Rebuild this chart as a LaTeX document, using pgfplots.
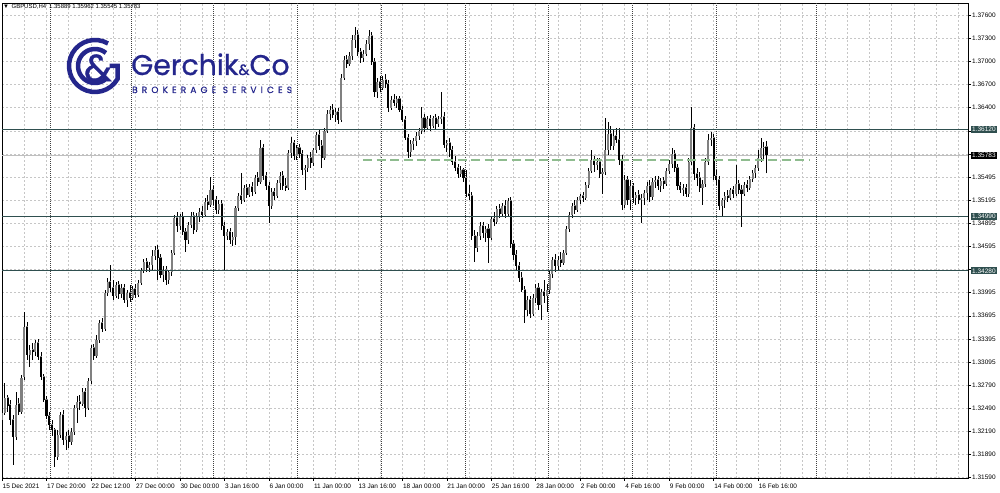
\documentclass[border=0pt]{standalone}
\usepackage{fontspec}
\setmainfont{Liberation Sans}
\newfontfamily\logofont{Poppins}[FakeBold=0.8]
\newfontfamily\logospaced{Poppins}[LetterSpace=46, FakeBold=0.5]
\usepackage{pgfplots}
\usepackage{pgfplotstable}
\pgfplotsset{compat=1.18}
\definecolor{slate}{RGB}{47,79,79}
\definecolor{lvlgreen}{RGB}{143,188,143}
\definecolor{logoblue}{RGB}{36,38,140}
\definecolor{gridgray}{RGB}{198,198,198}
\definecolor{bullgray}{RGB}{128,128,128}

\pgfplotstableread{
i o h l c
0 1.32340 1.32509 1.32249 1.32431
1 1.32431 1.32821 1.32405 1.32626
2 1.32626 1.32665 1.32444 1.32522
3 1.32535 1.32600 1.32275 1.32340
4 1.32340 1.32405 1.31755 1.32119
5 1.32119 1.32704 1.32080 1.32535
6 1.32548 1.32626 1.32405 1.32444
7 1.32444 1.32925 1.32418 1.32886
8 1.32899 1.33744 1.32860 1.33549
9 1.33549 1.33614 1.33120 1.33185
10 1.33185 1.33315 1.33029 1.33250
11 1.33250 1.33341 1.33120 1.33224
12 1.33224 1.33380 1.33172 1.33341
13 1.33341 1.33393 1.33120 1.33159
14 1.33159 1.33224 1.32860 1.32899
15 1.32899 1.32938 1.32574 1.32600
16 1.32600 1.32652 1.32353 1.32392
17 1.32392 1.32444 1.32210 1.32275
18 1.32275 1.32340 1.32132 1.32210
19 1.32210 1.32236 1.31729 1.31859
20 1.31859 1.32210 1.31820 1.32145
21 1.32145 1.32444 1.32106 1.32405
22 1.32405 1.32470 1.32015 1.32080
23 1.32080 1.32184 1.31950 1.32132
24 1.32132 1.32210 1.31976 1.32054
25 1.32054 1.32236 1.32015 1.32184
26 1.32184 1.32535 1.32145 1.32496
27 1.32496 1.32652 1.32301 1.32574
28 1.32574 1.32665 1.32470 1.32548
29 1.32548 1.32756 1.32522 1.32704
30 1.32704 1.32756 1.32379 1.32496
31 1.32496 1.32886 1.32470 1.32847
32 1.32847 1.33315 1.32808 1.33276
33 1.33276 1.33328 1.33120 1.33172
34 1.33172 1.33445 1.33146 1.33380
35 1.33380 1.33640 1.33341 1.33601
36 1.33601 1.33666 1.33484 1.33523
37 1.33523 1.34030 1.33497 1.33991
38 1.33991 1.34186 1.33952 1.34134
39 1.34134 1.34355 1.34004 1.34056
40 1.34056 1.34160 1.33900 1.33952
41 1.33952 1.34134 1.33926 1.34095
42 1.34095 1.34147 1.33913 1.33978
43 1.33978 1.34108 1.33926 1.34056
44 1.34056 1.34108 1.33861 1.33900
45 1.33900 1.34030 1.33809 1.33991
46 1.33991 1.34095 1.33874 1.33926
47 1.33926 1.34082 1.33900 1.34043
48 1.34043 1.34108 1.33926 1.33965
49 1.33965 1.34160 1.33939 1.34121
50 1.34121 1.34316 1.34095 1.34290
51 1.34290 1.34433 1.34251 1.34394
52 1.34394 1.34446 1.34264 1.34316
53 1.34316 1.34394 1.34264 1.34355
54 1.34355 1.34550 1.34290 1.34472
55 1.34472 1.34602 1.34420 1.34550
56 1.34550 1.34615 1.34160 1.34446
57 1.34446 1.34498 1.34186 1.34225
58 1.34225 1.34342 1.34134 1.34290
59 1.34290 1.34342 1.34095 1.34160
60 1.34160 1.34290 1.34108 1.34264
61 1.34264 1.34550 1.34212 1.34511
62 1.34511 1.35005 1.34485 1.34966
63 1.34966 1.35044 1.34784 1.34862
64 1.34862 1.35018 1.34810 1.34979
65 1.34979 1.35044 1.34745 1.34784
66 1.34784 1.34836 1.34524 1.34680
67 1.34680 1.34914 1.34628 1.34875
68 1.34875 1.35044 1.34836 1.34992
69 1.34992 1.35044 1.34758 1.34810
70 1.34810 1.35031 1.34784 1.34992
71 1.34992 1.35096 1.34914 1.35044
72 1.35044 1.35122 1.34966 1.35005
73 1.35005 1.35226 1.34979 1.35174
74 1.35174 1.35265 1.35070 1.35135
75 1.35135 1.35499 1.35109 1.35330
76 1.35330 1.35382 1.35135 1.35200
77 1.35200 1.35252 1.35018 1.35070
78 1.35070 1.35200 1.35018 1.35148
79 1.35148 1.35200 1.34810 1.34862
80 1.34862 1.34914 1.34290 1.34732
81 1.34732 1.34823 1.34680 1.34784
82 1.34784 1.34836 1.34628 1.34680
83 1.34680 1.34784 1.34602 1.34719
84 1.34719 1.35122 1.34615 1.35096
85 1.35096 1.35291 1.35057 1.35252
86 1.35252 1.35551 1.35148 1.35200
87 1.35200 1.35395 1.35174 1.35356
88 1.35356 1.35408 1.35226 1.35265
89 1.35265 1.35408 1.35239 1.35369
90 1.35369 1.35434 1.35252 1.35304
91 1.35304 1.35525 1.35278 1.35486
92 1.35486 1.35564 1.35382 1.35434
93 1.35434 1.35980 1.35408 1.35876
94 1.35876 1.35928 1.35460 1.35512
95 1.35512 1.35564 1.35330 1.35382
96 1.35382 1.35434 1.34901 1.35122
97 1.35122 1.35356 1.35083 1.35304
98 1.35304 1.35356 1.35200 1.35252
99 1.35252 1.35460 1.35226 1.35421
100 1.35421 1.35564 1.35330 1.35512
101 1.35512 1.35577 1.35330 1.35382
102 1.35382 1.35486 1.35317 1.35356
103 1.35356 1.35850 1.35330 1.35811
104 1.35811 1.36019 1.35746 1.35941
105 1.35941 1.35980 1.35720 1.35772
106 1.35772 1.35915 1.35720 1.35876
107 1.35876 1.35928 1.35746 1.35798
108 1.35798 1.35850 1.35525 1.35590
109 1.35590 1.35655 1.35330 1.35616
110 1.35616 1.35785 1.35564 1.35746
111 1.35746 1.35824 1.35616 1.35681
112 1.35681 1.35876 1.35642 1.35850
113 1.35850 1.36084 1.35811 1.36045
114 1.36045 1.36110 1.35850 1.35902
115 1.35902 1.35980 1.35616 1.35746
116 1.35746 1.36136 1.35720 1.36097
117 1.36097 1.36370 1.36071 1.36318
118 1.36318 1.36422 1.36240 1.36370
119 1.36370 1.36448 1.36266 1.36305
120 1.36305 1.36396 1.36214 1.36344
121 1.36344 1.36396 1.36188 1.36240
122 1.36240 1.36838 1.36214 1.36786
123 1.36786 1.37072 1.36760 1.37020
124 1.37020 1.37085 1.36916 1.36968
125 1.36968 1.37124 1.36942 1.37072
126 1.37072 1.37345 1.37020 1.37280
127 1.37280 1.37449 1.37176 1.37345
128 1.37345 1.37410 1.37072 1.37124
129 1.37124 1.37176 1.36981 1.37046
130 1.37046 1.37150 1.36994 1.37098
131 1.37098 1.37280 1.37072 1.37228
132 1.37228 1.37410 1.37150 1.37332
133 1.37332 1.37384 1.36955 1.36994
134 1.36994 1.37046 1.36539 1.36604
135 1.36604 1.36786 1.36526 1.36734
136 1.36734 1.36812 1.36604 1.36656
137 1.36656 1.36812 1.36630 1.36760
138 1.36760 1.36838 1.36656 1.36708
139 1.36708 1.36760 1.36344 1.36396
140 1.36396 1.36552 1.36370 1.36500
141 1.36500 1.36578 1.36422 1.36461
142 1.36461 1.36552 1.36396 1.36513
143 1.36513 1.36552 1.36344 1.36370
144 1.36370 1.36422 1.36214 1.36240
145 1.36240 1.36292 1.35980 1.36006
146 1.36006 1.36058 1.35746 1.35824
147 1.35824 1.35980 1.35759 1.35928
148 1.35928 1.36006 1.35850 1.35967
149 1.35967 1.36084 1.35902 1.36032
150 1.36032 1.36136 1.35980 1.36097
151 1.36097 1.36409 1.36058 1.36266
152 1.36266 1.36318 1.36084 1.36136
153 1.36136 1.36292 1.36110 1.36253
154 1.36253 1.36305 1.36097 1.36162
155 1.36162 1.36292 1.36136 1.36266
156 1.36266 1.36318 1.36110 1.36188
157 1.36188 1.36292 1.36149 1.36253
158 1.36253 1.36604 1.36188 1.36279
159 1.36279 1.36344 1.35876 1.35915
160 1.35915 1.35980 1.35824 1.35941
161 1.35941 1.36006 1.35759 1.35850
162 1.35850 1.35902 1.35655 1.35694
163 1.35694 1.35772 1.35577 1.35616
164 1.35616 1.35668 1.35486 1.35538
165 1.35538 1.35642 1.35499 1.35590
166 1.35590 1.35616 1.35434 1.35486
167 1.35486 1.35590 1.35239 1.35278
168 1.35278 1.35395 1.35200 1.35252
169 1.35252 1.35304 1.34680 1.34732
170 1.34732 1.34810 1.34394 1.34576
171 1.34576 1.34784 1.34524 1.34732
172 1.34732 1.34914 1.34680 1.34862
173 1.34862 1.34914 1.34706 1.34771
174 1.34771 1.34862 1.34654 1.34823
175 1.34823 1.34888 1.34381 1.34706
176 1.34706 1.34992 1.34680 1.34953
177 1.34953 1.35044 1.34862 1.34914
178 1.34914 1.35122 1.34888 1.35083
179 1.35083 1.35148 1.34966 1.35018
180 1.35018 1.35161 1.34992 1.35122
181 1.35122 1.35200 1.34966 1.35018
182 1.35018 1.35226 1.34992 1.35187
183 1.35187 1.35239 1.34576 1.34628
184 1.34628 1.34680 1.34420 1.34485
185 1.34485 1.34550 1.34290 1.34342
186 1.34342 1.34394 1.34134 1.34186
187 1.34186 1.34264 1.34004 1.34030
188 1.34030 1.34082 1.33601 1.33770
189 1.33770 1.33952 1.33692 1.33900
190 1.33900 1.33952 1.33666 1.33718
191 1.33718 1.33978 1.33692 1.33926
192 1.33926 1.34108 1.33861 1.34056
193 1.34056 1.34121 1.33770 1.33835
194 1.33835 1.34043 1.33640 1.34004
195 1.34004 1.34160 1.33861 1.33952
196 1.33952 1.34108 1.33744 1.34030
197 1.34030 1.34290 1.33978 1.34238
198 1.34238 1.34459 1.34186 1.34420
199 1.34420 1.34498 1.34264 1.34342
200 1.34342 1.34472 1.34290 1.34420
201 1.34420 1.34524 1.34329 1.34381
202 1.34381 1.34550 1.34355 1.34511
203 1.34511 1.34862 1.34485 1.34823
204 1.34823 1.35044 1.34784 1.35005
205 1.35005 1.35161 1.34966 1.35122
206 1.35122 1.35200 1.35018 1.35070
207 1.35070 1.35239 1.35044 1.35200
208 1.35200 1.35278 1.35148 1.35252
209 1.35252 1.35304 1.35174 1.35226
210 1.35226 1.35434 1.35200 1.35395
211 1.35395 1.35616 1.35356 1.35577
212 1.35577 1.35850 1.35551 1.35720
213 1.35720 1.35772 1.35564 1.35655
214 1.35655 1.35746 1.35590 1.35694
215 1.35694 1.35746 1.35486 1.35538
216 1.35538 1.35616 1.35278 1.35564
217 1.35564 1.36266 1.35525 1.35850
218 1.35850 1.36214 1.35785 1.36058
219 1.36058 1.36162 1.35850 1.35902
220 1.35902 1.36110 1.35850 1.36032
221 1.36032 1.36136 1.35941 1.35980
222 1.35980 1.36136 1.35655 1.35720
223 1.35720 1.35785 1.35070 1.35135
224 1.35135 1.35525 1.35096 1.35460
225 1.35460 1.35512 1.35135 1.35200
226 1.35200 1.35460 1.35070 1.35382
227 1.35382 1.35421 1.35161 1.35226
228 1.35226 1.35304 1.35135 1.35265
229 1.35265 1.35330 1.35148 1.35200
230 1.35200 1.35278 1.34901 1.35226
231 1.35226 1.35330 1.35135 1.35291
232 1.35291 1.35434 1.35200 1.35382
233 1.35382 1.35460 1.35174 1.35239
234 1.35239 1.35486 1.35200 1.35434
235 1.35434 1.35512 1.35356 1.35460
236 1.35460 1.35512 1.35330 1.35382
237 1.35382 1.35486 1.35304 1.35447
238 1.35447 1.35499 1.35343 1.35408
239 1.35408 1.35616 1.35382 1.35577
240 1.35577 1.35720 1.35538 1.35668
241 1.35668 1.35876 1.35616 1.35798
242 1.35798 1.35850 1.35564 1.35616
243 1.35616 1.35668 1.35330 1.35382
244 1.35382 1.35434 1.35291 1.35330
245 1.35330 1.35408 1.35252 1.35356
246 1.35356 1.35408 1.35239 1.35278
247 1.35278 1.35746 1.35239 1.35694
248 1.35694 1.36409 1.35655 1.36136
249 1.36136 1.36188 1.35460 1.35538
250 1.35538 1.35616 1.35382 1.35486
251 1.35486 1.35564 1.35304 1.35356
252 1.35356 1.35460 1.35135 1.35408
253 1.35408 1.35746 1.35369 1.35694
254 1.35694 1.36058 1.35655 1.35980
255 1.35980 1.36084 1.35902 1.36006
256 1.36006 1.36058 1.35460 1.35512
257 1.35512 1.35590 1.35395 1.35460
258 1.35460 1.35512 1.35070 1.35122
259 1.35122 1.35226 1.34979 1.35200
260 1.35200 1.35304 1.35096 1.35252
261 1.35252 1.35330 1.35174 1.35226
262 1.35226 1.35356 1.35200 1.35330
263 1.35330 1.35382 1.35226 1.35278
264 1.35278 1.35655 1.35252 1.35408
265 1.35408 1.35460 1.35278 1.35330
266 1.35330 1.35395 1.34849 1.35278
267 1.35278 1.35434 1.35252 1.35395
268 1.35395 1.35460 1.35304 1.35356
269 1.35356 1.35512 1.35330 1.35473
270 1.35473 1.35590 1.35434 1.35551
271 1.35551 1.35655 1.35486 1.35616
272 1.35616 1.35850 1.35577 1.35746
273 1.35746 1.36006 1.35694 1.35876
274 1.35876 1.35954 1.35720 1.35889
275 1.35889 1.35962 1.35545 1.35783
}\candles

\begin{document}
\begin{tikzpicture}[x=1bp,y=1bp]
\useasboundingbox (0,0) rectangle (1000,493);
\begin{axis}[
  at={(2bp,15bp)}, anchor=south west,
  scale only axis, width=966bp, height=475bp,
  xmin=0, xmax=347.5, ymin=1.31586, ymax=1.37761,
  axis line style={black, line width=0.6bp},
  xtick={0,16,...,272},
  xticklabels={15 Dec 2021,17 Dec 20:00,22 Dec 12:00,27 Dec 00:00,30 Dec 00:00,3 Jan 16:00,6 Jan 00:00,11 Jan 00:00,13 Jan 16:00,18 Jan 00:00,21 Jan 00:00,25 Jan 16:00,28 Jan 00:00,2 Feb 00:00,4 Feb 16:00,9 Feb 00:00,14 Feb 00:00,16 Feb 16:00},
  minor xtick={8,16,...,344},
  extra x ticks={17.27,46.4,75.9,106.1,136.3,166.5,196.4,226.6,256.8,292.8},
  extra x tick labels={},
  extra x tick style={grid=major, major grid style={draw=black!75, line width=0.6bp, dash pattern=on 1bp off 1bp}, major tick length=0pt},
  ytick={1.31590,1.31890,1.32190,1.32490,1.32790,1.33095,1.33395,1.33695,1.33995,1.34295,1.34595,1.34895,1.35195,1.35495,1.35795,1.36100,1.36400,1.36700,1.37000,1.37300,1.37600},
  yticklabels={1.31590,1.31890,1.32190,1.32490,1.32790,1.33095,1.33395,1.33695,1.33995,{},1.34595,1.34895,1.35195,1.35495,{},{},1.36400,1.36700,1.37000,1.37300,1.37600},
  xtick pos=left, ytick pos=right, yticklabel pos=right, xticklabel pos=left,
  tick align=outside, major tick length=3bp, minor tick length=0pt,
  tick style={black, line width=0.5bp},
  grid=both,
  major grid style={gridgray, line width=0.5bp, dash pattern=on 2bp off 2bp},
  minor grid style={gridgray, line width=0.5bp, dash pattern=on 2bp off 2bp},
  ticklabel style={font=\fontsize{6.5}{7}\selectfont, text=black},
  xticklabel style={anchor=north west, inner sep=0pt, xshift=0.5bp, yshift=-2.5bp},
  yticklabel style={anchor=west, inner sep=0pt, xshift=1bp},
  scaled ticks=false,
  clip=true,
]
% bid line
\addplot[black!25, line width=0.6bp, forget plot] coordinates {(0,1.35783) (347.5,1.35783)};
% wicks
\addplot[draw=black, line width=0.7bp, forget plot,
  quiver={u=0, v={\thisrow{h}-\thisrow{l}}},
  quiver/every arrow/.append style={draw=black, line width=0.7bp}]
  table[x=i, y=l] {\candles};
% bull bodies
\addplot[draw=bullgray, line width=2.1bp, forget plot,
  quiver={u=0, v={max(\thisrow{c}-\thisrow{o},0.00008)}},
  quiver/every arrow/.append style={draw=bullgray, line width=2.1bp}]
  table[x=i, y=o] {\candles};
% bear bodies
\addplot[draw=black, line width=2.1bp, forget plot,
  quiver={u=0, v={max(\thisrow{o}-\thisrow{c},0)}},
  quiver/every arrow/.append style={draw=black, line width=2.1bp}]
  table[x=i, y=c] {\candles};
% level lines
\addplot[slate, line width=1.2bp, forget plot] coordinates {(0,1.36120) (347.5,1.36120)};
\addplot[slate, line width=1.2bp, forget plot] coordinates {(0,1.34990) (347.5,1.34990)};
\addplot[slate, line width=1.2bp, forget plot] coordinates {(0,1.34280) (347.5,1.34280)};
% green dashed
\addplot[lvlgreen, line width=1.4bp, dash pattern=on 9bp off 4.5bp, forget plot] coordinates {(129.9,1.35720) (290.7,1.35720)};
\coordinate (b1) at (axis cs:347.5,1.36120);
\coordinate (b2) at (axis cs:347.5,1.35783);
\coordinate (b3) at (axis cs:347.5,1.34990);
\coordinate (b4) at (axis cs:347.5,1.34280);
\end{axis}
\tikzset{pbox/.style={anchor=west, text=white, inner xsep=1.5bp, inner ysep=1.1bp, text height=4.7bp, text depth=0pt, font=\fontsize{6.5}{7}\selectfont}}
\node[pbox, fill=slate] at ([xshift=2.5bp]b1) {1.36120};
\node[pbox, fill=black] at ([xshift=2.5bp]b2) {1.35783};
\node[pbox, fill=slate] at ([xshift=2.5bp]b3) {1.34990};
\node[pbox, fill=slate] at ([xshift=2.5bp]b4) {1.34280};
% header
\node[anchor=west, inner sep=0pt, font=\fontsize{6}{7}\selectfont] at (3,486) {▼\hspace{2.5bp}GBPUSD,H4\hspace{3bp}1.35889 1.35962 1.35545 1.35783};
% logo
\begin{scope}[draw=logoblue, line width=4.5bp]
  \draw (95,427) ++(60:26) arc[start angle=60, end angle=330, radius=26] -- ++(0,13) -- ++(-8,0);
  \draw (95,427) ++(50:17) arc[start angle=50, end angle=310, radius=17];
\end{scope}
\node[text=logoblue, font=\logofont\fontsize{38}{38}\selectfont, inner sep=0pt] at (98,425) {\&};
\node[anchor=base west, inner sep=0pt, text depth=0pt, text=logoblue, font=\logofont\fontsize{28.5}{28.5}\selectfont] at (131,418) {Gerchik{\fontsize{15}{15}\selectfont\&}Co};
\node[anchor=base west, inner sep=0pt, text height=6.5bp, text depth=0pt, text=logoblue, font=\logospaced\fontsize{9}{9}\selectfont] at (132,400) {BROKERAGE SERVICES};
\end{tikzpicture}
\end{document}
